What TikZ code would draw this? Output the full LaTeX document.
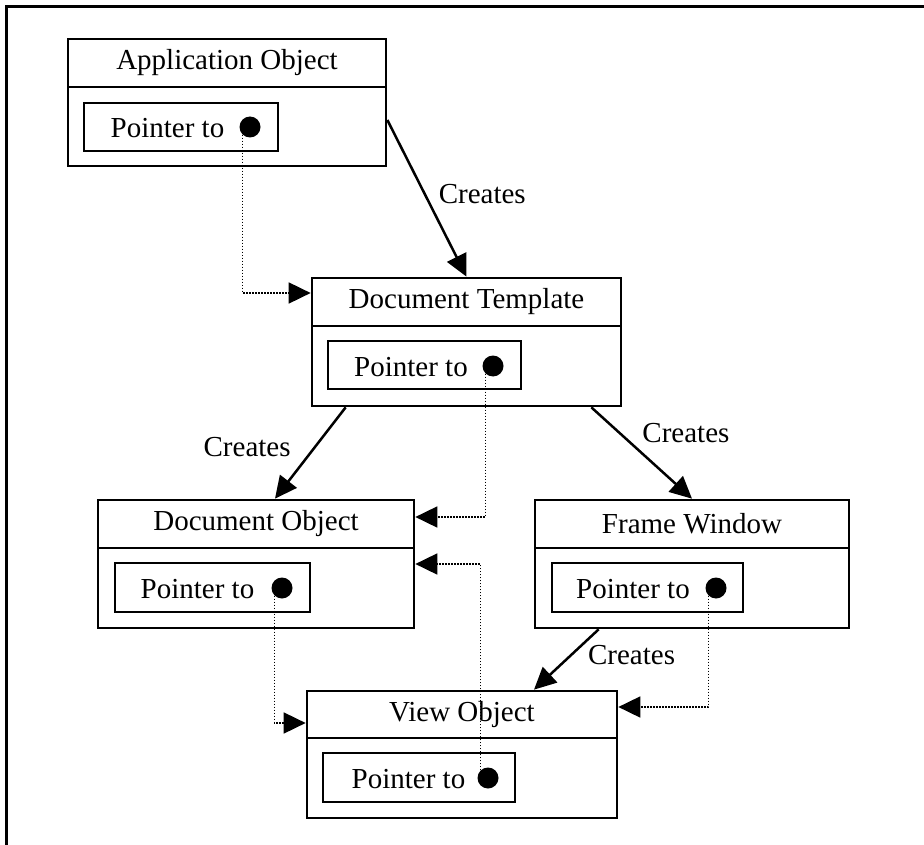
\documentclass[tikz,border=0pt]{standalone}
\usepackage{fontspec}
\setmainfont{Liberation Serif}
\usetikzlibrary{arrows.meta}

\begin{document}
\begin{tikzpicture}[x=1pt, y=-1pt,
  every node/.style={font=\fontsize{29}{34}\selectfont},
  objhead/.style={draw, line width=2.7pt, minimum height=48pt, inner sep=0pt},
  objbody/.style={draw, line width=2.7pt, minimum height=80pt, inner sep=0pt},
  ptrbox/.style={draw, line width=2.5pt, minimum height=48pt, inner sep=0pt},
  ptrdot/.style={circle, fill, minimum size=21pt, inner sep=0pt},
  lbl/.style={inner sep=0pt},
  creates/.style={line width=2.5pt, -{Triangle[length=22pt, width=21pt]}},
  ptrline/.style={line width=1.8pt, dash pattern=on 1.6pt off 1.4pt,
    -{Triangle[length=22pt, width=21pt]}}]
  \useasboundingbox (0,0) rectangle (924,845);

  % the frame round the figure (only top and left survive)
  \draw[line width=3pt] (6,845) -- (6,7) -- (924,7);

  % the objects: a title row and a body
  \node (apphead) [objhead, minimum width=318pt] at (227,63) {Application Object};
  \node (appbody) [objbody, minimum width=318pt, minimum height=79pt] at (227,126.5) {};
  \node (tmplhead) [objhead, minimum width=309pt] at (466.5,302) {Document Template};
  \node (tmplbody) [objbody, minimum width=309pt] at (466.5,366) {};
  \node (dochead) [objhead, minimum width=316pt] at (256,524) {Document Object};
  \node (docbody) [objbody, minimum width=316pt] at (256,588) {};
  \node (framehead) [objhead, minimum width=314pt] at (692,524) {Frame Window};
  \node (framebody) [objbody, minimum width=314pt] at (692,588) {};
  \node (viewhead) [objhead, minimum width=310pt, minimum height=47pt] at (462,714.5) {View Object};
  \node (viewbody) [objbody, minimum width=310pt] at (462,778) {};

  % the pointer fields inside the bodies
  \node (appptr) [ptrbox, minimum width=194pt] at (181,127) {};
  \node (tmplptr) [ptrbox, minimum width=193pt] at (424.5,365) {};
  \node (docptr) [ptrbox, minimum width=195pt, minimum height=49pt] at (212.5,587.5) {};
  \node (frameptr) [ptrbox, minimum width=191pt, minimum height=49pt] at (647.5,587.5) {};
  \node (viewptr) [ptrbox, minimum width=192pt, minimum height=49pt] at (419,777.5) {};

  \node (apptxt) at (167.5,128) {Pointer to};
  \node (tmpltxt) at (411,367) {Pointer to};
  \node (doctxt) at (197.5,589) {Pointer to};
  \node (frametxt) at (633,589) {Pointer to};
  \node (viewtxt) at (408.5,779) {Pointer to};

  \node (appdot) [ptrdot] at (250,127) {};
  \node (tmpldot) [ptrdot] at (493,366) {};
  \node (docdot) [ptrdot] at (282,588) {};
  \node (framedot) [ptrdot] at (716,588) {};
  \node (viewdot) [ptrdot] at (488,778) {};

  % the creates arrows
  \draw[creates] ([yshift=6.5pt]appbody.east) -- node[lbl, pos=0.47, anchor=west, xshift=13pt] {Creates} (tmplhead.north);
  \draw[creates] ([xshift=35pt]tmplbody.south west) -- node[lbl, pos=0.436, anchor=east, xshift=-23pt] {Creates} ([xshift=19pt]dochead.north);
  \draw[creates] ([xshift=-31pt]tmplbody.south east) -- node[lbl, pos=0.277, anchor=west, xshift=22pt] {Creates} (framehead.north);
  \draw[creates] ([xshift=65pt]framebody.south west) -- node[lbl, pos=0.43, anchor=west, xshift=16pt] {Creates} ([xshift=72pt]viewhead.north);

  % the pointers
  \draw[ptrline] (appdot.south west) |- ([yshift=9pt]tmplhead.west);
  \draw[ptrline] (tmpldot.south west) |- ([yshift=7pt]dochead.east);
  \draw[ptrline] (viewdot.north west) |- ([yshift=24pt]docbody.east);
  \draw[ptrline] (docdot.south west) |- ([yshift=-8.5pt]viewhead.west);
  \draw[ptrline] (framedot.south west) |- ([yshift=7.5pt]viewhead.east);
\end{tikzpicture}
\end{document}
